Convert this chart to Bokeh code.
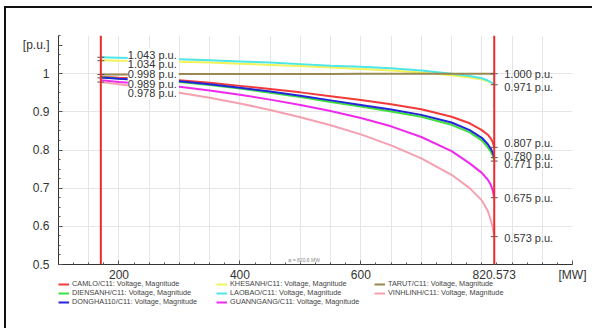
from bokeh.plotting import figure
from bokeh.layouts import column
from bokeh.models import (Span, FixedTicker, Legend, LegendItem, ColumnDataSource, Range1d)
from bokeh.core.properties import value
from bokeh.embed import file_html
from bokeh.resources import INLINE

# ---- data ----
P = [170, 200, 250, 300, 350, 400, 450, 500, 550, 600, 650, 700, 750, 780, 800, 810, 815, 818, 820.573]

CAMLO     = [0.992, 0.989, 0.986, 0.983, 0.976, 0.968, 0.960, 0.951, 0.941, 0.931, 0.920, 0.907, 0.887, 0.870, 0.852, 0.840, 0.830, 0.821, 0.807]
DIENSANH  = [0.991, 0.987, 0.982, 0.978, 0.970, 0.961, 0.950, 0.939, 0.926, 0.914, 0.901, 0.887, 0.866, 0.846, 0.825, 0.807, 0.795, 0.786, 0.771]
DONGHA110 = [0.990, 0.987, 0.983, 0.980, 0.972, 0.963, 0.953, 0.942, 0.930, 0.918, 0.906, 0.892, 0.872, 0.852, 0.832, 0.815, 0.803, 0.794, 0.780]
KHESANH   = [1.035, 1.034, 1.033, 1.031, 1.029, 1.026, 1.023, 1.020, 1.016, 1.012, 1.008, 1.003, 0.996, 0.990, 0.985, 0.980, 0.977, 0.975, 0.972]
LAOBAO    = [1.043, 1.042, 1.040, 1.038, 1.035, 1.032, 1.029, 1.025, 1.021, 1.018, 1.014, 1.008, 1.000, 0.994, 0.988, 0.982, 0.978, 0.975, 0.971]
GUANNGANG = [0.983, 0.978, 0.972, 0.966, 0.956, 0.945, 0.932, 0.918, 0.902, 0.884, 0.862, 0.834, 0.797, 0.765, 0.740, 0.722, 0.708, 0.695, 0.675]
TARUT     = [0.998, 0.998, 0.998, 0.999, 0.999, 0.999, 0.999, 0.999, 0.999, 1.000, 1.000, 1.000, 1.000, 1.000, 1.000, 1.000, 1.000, 1.000, 1.000]
VINHLINH  = [0.978, 0.972, 0.962, 0.950, 0.937, 0.922, 0.905, 0.886, 0.865, 0.841, 0.812, 0.778, 0.735, 0.700, 0.668, 0.640, 0.615, 0.598, 0.573]

series_names = ["CAMLO", "DIENSANH", "DONGHA110", "KHESANH", "LAOBAO", "GUANNGANG", "TARUT", "VINHLINH"]
series_vals = [CAMLO, DIENSANH, DONGHA110, KHESANH, LAOBAO, GUANNGANG, TARUT, VINHLINH]
series_colors = ["#f23a3a", "#3de03d", "#2424d8", "#f2f25a", "#4ee6e6", "#ee2aee", "#998850", "#f5a0b0"]

P_start = 170
P_max = 820.573

start_labels = [1.043, 1.034, 0.998, 0.989, 0.978]
end_labels = [1.000, 0.971, 0.807, 0.780, 0.771, 0.675, 0.573]

x_tick_vals = [200, 400, 600, 820.573, 950]
x_tick_text = ["200", "400", "600", "820.573", "[MW]"]
y_tick_vals = [0.5, 0.6, 0.7, 0.8, 0.9, 1.0, 1.075]
y_tick_text = ["0.5", "0.6", "0.7", "0.8", "0.9", "1", "[p.u.]"]

# layout only: pixel offsets used to keep labels apart
start_label_dy = [-2.5, 3, -0.8, 5.8, 10.6]
end_label_dy = [0, 2, -4, -1.5, 3.3, 0.5, 1.4]

FONT = "Liberation Sans"

p = figure(width=586, height=276, output_backend="svg", toolbar_location=None,
           x_range=Range1d(100, 950), y_range=Range1d(0.5, 1.1),
           min_border_left=52, min_border_right=20, min_border_top=27, min_border_bottom=20)
p.outline_line_color = None
p.background_fill_color = "white"

# axes
for ax in (p.xaxis[0], p.yaxis[0]):
    ax.axis_line_color = "#333333"
    ax.major_tick_in = 4
    ax.major_tick_out = 0
    ax.minor_tick_in = 2
    ax.minor_tick_out = 0
    ax.major_tick_line_color = "#555555"
    ax.minor_tick_line_color = "#555555"
    ax.major_label_text_font = FONT
    ax.major_label_text_font_size = "12px"
    ax.major_label_text_color = "#333333"

p.xaxis.ticker = FixedTicker(ticks=x_tick_vals, minor_ticks=[100 + 25 * i for i in range(35)])
p.xaxis.major_label_overrides = {float(k): t for k, t in zip(x_tick_vals, x_tick_text)}
p.xaxis.major_label_standoff = 3
p.yaxis.ticker = FixedTicker(ticks=y_tick_vals, minor_ticks=[0.5 + 0.025 * i for i in range(25)])
p.yaxis.major_label_overrides = {float(k): t for k, t in zip(y_tick_vals, y_tick_text)}
p.yaxis.major_label_standoff = 9

p.xgrid.ticker = FixedTicker(ticks=[100 + 50 * i for i in range(18)])
p.ygrid.ticker = FixedTicker(ticks=[0.6, 0.7, 0.8, 0.9, 1.0, 1.1])
p.xgrid.grid_line_color = "#e6e6e6"
p.ygrid.grid_line_color = "#e6e6e6"

# curves
for name, vals, col in zip(series_names, series_vals, series_colors):
    p.line(P, vals, line_color=col, line_width=2)

# red vertical lines
for xloc in (P_start, P_max):
    p.add_layout(Span(location=xloc, dimension="height", line_color="#ee2b2b", line_width=2))

# small marks at the labelled values
p.scatter([P_start] * len(start_labels), start_labels, marker="dash", size=7, line_color="#555555", line_width=1)
p.scatter([P_max] * len(end_labels), end_labels, marker="dash", size=7, line_color="#555555", line_width=1)

# value labels (white boxes first, then the texts on top)
src_s = ColumnDataSource(dict(x=[P_start] * len(start_labels), y=start_labels,
                              t=["%.3f p.u." % v for v in start_labels], dy=start_label_dy))
p.text(x="x", y="y", text="t", y_offset="dy", x_offset=27, source=src_s,
       text_font=value(FONT), text_font_size="11px", text_alpha=0,
       text_baseline="middle", text_align="left",
       background_fill_color="white", padding=1)
p.text(x="x", y="y", text="t", y_offset="dy", x_offset=27, source=src_s,
       text_font=value(FONT), text_font_size="11px", text_color="#333333",
       text_baseline="middle", text_align="left")
src_e = ColumnDataSource(dict(x=[P_max] * len(end_labels), y=end_labels,
                              t=["%.3f p.u." % v for v in end_labels], dy=end_label_dy))
p.text(x="x", y="y", text="t", y_offset="dy", x_offset=10, source=src_e,
       text_font=value(FONT), text_font_size="11px", text_color="#333333",
       text_baseline="middle", text_align="left")

# small annotation near the bottom
p.text(x=[506], y=[0.512], text=["φ = 820.6 MW"], text_font=value(FONT), text_font_size="5px",
       text_color="#888888", text_align="center", text_baseline="middle")

# ---- legend strip below the chart ----
p2 = figure(width=586, height=44, output_backend="svg", toolbar_location=None,
            x_range=Range1d(0, 1), y_range=Range1d(0, 1),
            x_axis_location=None, y_axis_location=None,
            min_border_left=52, min_border_right=0, min_border_top=3, min_border_bottom=0)
p2.outline_line_color = None
p2.background_fill_alpha = 0
p2.border_fill_alpha = 0
p2.xgrid.visible = False
p2.ygrid.visible = False
items = []
for name, col in zip(series_names, series_colors):
    r = p2.line(x=[-5, -4], y=[-5, -5], line_color=col, line_width=2)
    items.append(LegendItem(label=name + "/C11: Voltage, Magnitude", renderers=[r]))
legend = Legend(items=items, nrows=3, orientation="vertical", location="top_left",
                label_text_font=FONT, label_text_font_size="7.3px", label_text_color="#444444",
                glyph_width=11, glyph_height=8, label_height=8, label_width=144,
                label_standoff=3, spacing=0, padding=0, margin=0,
                border_line_color=None, background_fill_alpha=0)
p2.add_layout(legend)
p2.styles = {"position": "relative", "top": "-8px"}

layout = column(p, p2, spacing=0,
                styles={"margin-left": "4px", "margin-top": "6px",
                        "border-left": "2px solid #111", "border-top": "2px solid #111"})

open("out.html", "w").write(file_html(layout, INLINE))
